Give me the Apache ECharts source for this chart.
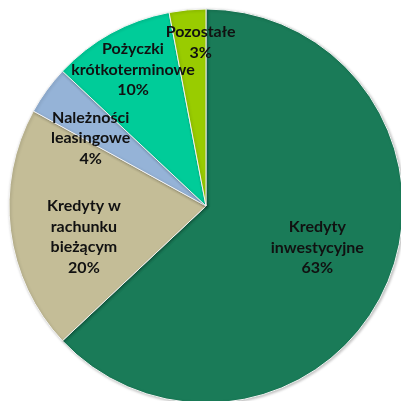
<!DOCTYPE html>
<html>
<head>
<meta charset="utf-8">
<script src="https://cdn.jsdelivr.net/npm/echarts@6/dist/echarts.min.js"></script>
<style>
  html, body { margin: 0; padding: 0; background: #fff; }
  #chart { width: 401px; height: 401px; }
</style>
</head>
<body>
<div id="chart"></div>
<script>
// Slices, clockwise from 12 o'clock
const categories = [
    'Kredyty\ninwestycyjne',
    'Kredyty w\nrachunku\nbieżącym',
    'Należności\nleasingowe',
    'Pożyczki\nkrótkoterminowe',
    'Pozostałe'
];
const shares = [63, 20, 4, 10, 3];
const colors = ['#1a7b58', '#c4bd97', '#95b3d7', '#00cc99', '#99cc00'];

// label placement: fraction of radius along mid angle, plus a small nudge
const labelRadius = [0.61, 0.64, 0.68, 0.78, 0.83];
const labelNudge = [[1, -6], [3, 15], [-7, 11], [1, -2], [10, -1]];

const CX = 206, CY = 206, R = 197;

const total = shares.reduce((a, b) => a + b, 0);

// Mid angle of each slice (radians, clockwise from top)
function midAngle(idx) {
    let before = 0;
    for (let i = 0; i < idx; i++) before += shares[i];
    return ((before + shares[idx] / 2) / total) * Math.PI * 2;
}

const chart = echarts.init(document.getElementById('chart'));

chart.setOption({
    animation: false,
    series: [{
        type: 'pie',
        center: [CX, CY],
        radius: [0, R],
        startAngle: 90,
        clockwise: true,
        data: categories.map((name, i) => ({
            name: name,
            value: shares[i],
            itemStyle: { color: colors[i] }
        })),
        itemStyle: {
            borderColor: '#f4f4f4',
            borderWidth: 1,
            shadowBlur: 3,
            shadowColor: 'rgba(0,0,0,0.25)',
            shadowOffsetX: 1,
            shadowOffsetY: 1
        },
        label: {
            show: true,
            position: 'inside',
            formatter: '{b}\n{c}%',
            fontFamily: 'Lato',
            fontWeight: 'bold',
            fontSize: 16,
            lineHeight: 20.5,
            color: '#111',
            align: 'center',
            overflow: 'none'
        },
        labelLine: { show: false },
        labelLayout: function (params) {
            const i = params.dataIndex;
            const a = midAngle(i);
            const r = R * labelRadius[i];
            return {
                x: CX + Math.sin(a) * r + labelNudge[i][0],
                y: CY - Math.cos(a) * r + labelNudge[i][1],
                align: 'center',
                verticalAlign: 'middle'
            };
        },
        emphasis: { disabled: true }
    }]
});
</script>
</body>
</html>
